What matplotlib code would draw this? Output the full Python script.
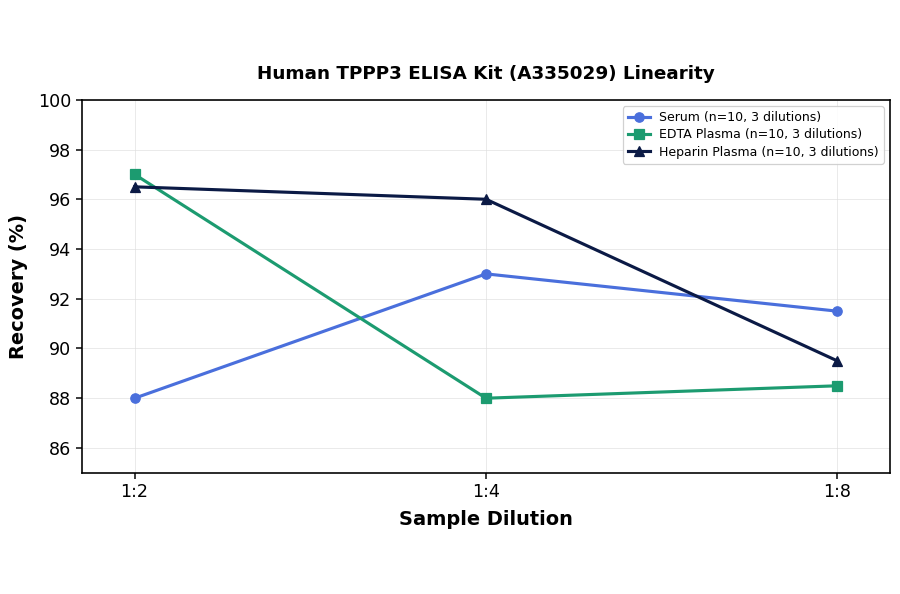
import matplotlib
matplotlib.use("Agg")
import matplotlib.pyplot as plt

dilutions = ["1:2", "1:4", "1:8"]
serum = [88.0, 93.0, 91.5]
edta = [97.0, 88.0, 88.5]
heparin = [96.5, 96.0, 89.5]
labels = ["Serum (n=10, 3 dilutions)", "EDTA Plasma (n=10, 3 dilutions)", "Heparin Plasma (n=10, 3 dilutions)"]
yticks = [86, 88, 90, 92, 94, 96, 98, 100]

fig = plt.figure(figsize=(10, 6.6), dpi=90)
ax = fig.add_axes([0.091, 0.204, 0.898, 0.628])
x = list(range(len(dilutions)))
ax.plot(x, serum, color="#4a6fdc", marker="o", lw=2.5, ms=7.5, label=labels[0])
ax.plot(x, edta, color="#1c9b70", marker="s", lw=2.5, ms=7.5, label=labels[1])
ax.plot(x, heparin, color="#0b1a45", marker="^", lw=2.5, ms=7.5, label=labels[2])
ax.set_xticks(x)
ax.set_xticklabels(dilutions)
ax.set_xlim(-0.15, 2.15)
ax.set_ylim(85, 100)
ax.set_yticks(yticks)
ax.tick_params(labelsize=14, width=1.2, length=5)
ax.grid(True, color="#dddddd", alpha=0.6, lw=0.8)
for s in ax.spines.values():
    s.set_linewidth(1.3)
ax.set_xlabel("Sample Dilution", fontsize=15.5, fontweight="bold", labelpad=7)
ax.set_ylabel("Recovery (%)", fontsize=15.5, fontweight="bold", labelpad=8)
ax.set_title("Human TPPP3 ELISA Kit (A335029) Linearity", fontsize=14.7, fontweight="bold", pad=17)
ax.legend(loc="upper right", fontsize=10, framealpha=0.9, borderpad=0.4,
          handlelength=1.8, handletextpad=0.7, labelspacing=0.35)
fig.savefig("out.png", dpi=90)
